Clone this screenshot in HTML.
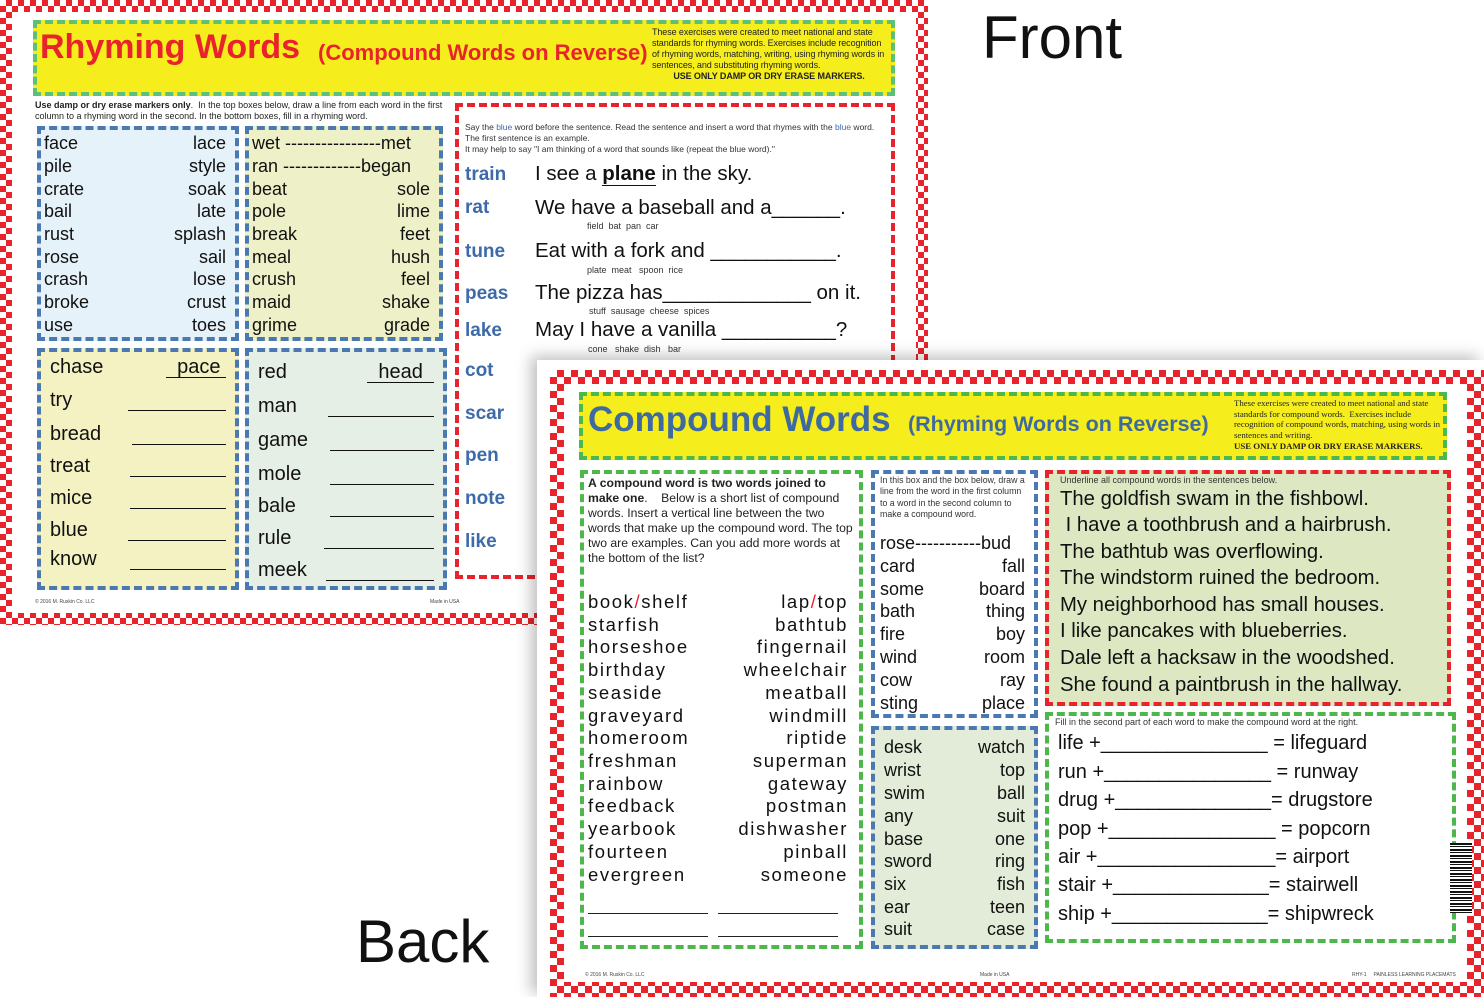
<!DOCTYPE html>
<html><head><meta charset="utf-8">
<style>
*{margin:0;padding:0;box-sizing:border-box}
html,body{width:1484px;height:997px;overflow:hidden}
body{position:relative;background:#fff;font-family:"Liberation Sans",sans-serif;color:#111}
.a{position:absolute}
.chk{position:absolute;background-color:#fff;background-image:repeating-conic-gradient(#e8232b 0 25%,#fff 0 50%);background-size:12px 12px}
.w{position:absolute;background:#fff}
.box{position:absolute}
.t{position:absolute;white-space:nowrap;line-height:1}
.r{position:absolute;display:flex;justify-content:space-between;white-space:nowrap;line-height:1}
.bl{color:#3d6aa8;font-weight:bold}
.sm{font-size:9px;color:#333}
.u{display:inline-block;border-bottom:1px solid #111}
</style></head><body>

<!-- FRONT SHEET -->
<div class="chk" style="left:0;top:0;width:928px;height:625px"></div>
<div class="w" style="left:12px;top:12px;width:904px;height:601px"></div>

<div class="box" style="left:33px;top:20px;width:862px;height:76px;background:#f5ee1c;border:4px dashed #5cbf7a"></div>
<div class="t" style="left:40px;top:30px;font-size:34px;font-weight:bold;color:#e8232b">Rhyming Words</div>
<div class="t" style="left:318px;top:42px;font-size:22px;font-weight:bold;color:#e8232b">(Compound Words on Reverse)</div>
<div class="a" style="left:652px;top:27px;width:234px;font-size:9px;line-height:11px;color:#222;letter-spacing:-0.1px">These exercises were created to meet national and state standards for rhyming words. Exercises include recognition of rhyming words, matching, writing, using rhyming words in sentences, and substituting rhyming words.<div style="text-align:center;font-weight:bold">USE ONLY DAMP OR DRY ERASE MARKERS.</div></div>

<div class="a" style="left:35px;top:100px;width:420px;font-size:9px;line-height:11px;color:#222"><b>Use damp or dry erase markers only</b>.&nbsp; In the top boxes below, draw a line from each word in the first column to a rhyming word in the second. In the bottom boxes, fill in a rhyming word.</div>

<div class="box" style="left:37px;top:126px;width:202px;height:215px;background:#e6f2fa;border:4px dashed #4a78b0"></div>
<div class="box" style="left:245px;top:126px;width:198px;height:215px;background:#eef0c8;border:4px dashed #4a78b0"></div>
<div class="box" style="left:37px;top:348px;width:202px;height:242px;background:#f4f1c2;border:4px dashed #4a78b0"></div>
<div class="box" style="left:245px;top:348px;width:202px;height:242px;background:#e6efe6;border:4px dashed #4a78b0"></div>

<div style="font-size:18px">
<div class="r" style="left:44px;width:182px;top:134px"><span>face</span><span>lace</span></div>
<div class="r" style="left:44px;width:182px;top:157px"><span>pile</span><span>style</span></div>
<div class="r" style="left:44px;width:182px;top:180px"><span>crate</span><span>soak</span></div>
<div class="r" style="left:44px;width:182px;top:202px"><span>bail</span><span>late</span></div>
<div class="r" style="left:44px;width:182px;top:225px"><span>rust</span><span>splash</span></div>
<div class="r" style="left:44px;width:182px;top:248px"><span>rose</span><span>sail</span></div>
<div class="r" style="left:44px;width:182px;top:270px"><span>crash</span><span>lose</span></div>
<div class="r" style="left:44px;width:182px;top:293px"><span>broke</span><span>crust</span></div>
<div class="r" style="left:44px;width:182px;top:316px"><span>use</span><span>toes</span></div>

<div class="r" style="left:252px;width:178px;top:134px"><span>wet ----------------met</span></div>
<div class="r" style="left:252px;width:178px;top:157px"><span>ran -------------began</span></div>
<div class="r" style="left:252px;width:178px;top:180px"><span>beat</span><span>sole</span></div>
<div class="r" style="left:252px;width:178px;top:202px"><span>pole</span><span>lime</span></div>
<div class="r" style="left:252px;width:178px;top:225px"><span>break</span><span>feet</span></div>
<div class="r" style="left:252px;width:178px;top:248px"><span>meal</span><span>hush</span></div>
<div class="r" style="left:252px;width:178px;top:270px"><span>crush</span><span>feel</span></div>
<div class="r" style="left:252px;width:178px;top:293px"><span>maid</span><span>shake</span></div>
<div class="r" style="left:252px;width:178px;top:316px"><span>grime</span><span>grade</span></div>
</div>

<div style="font-size:20px">
<div class="r" style="left:50px;width:176px;top:357px"><span>chase</span><span class="u">&nbsp;&nbsp;pace&nbsp;</span></div>
<div class="r" style="left:50px;width:176px;top:390px"><span>try</span><span class="u" style="width:98px">&nbsp;</span></div>
<div class="r" style="left:50px;width:176px;top:424px"><span>bread</span><span class="u" style="width:94px">&nbsp;</span></div>
<div class="r" style="left:50px;width:176px;top:456px"><span>treat</span><span class="u" style="width:96px">&nbsp;</span></div>
<div class="r" style="left:50px;width:176px;top:488px"><span>mice</span><span class="u" style="width:96px">&nbsp;</span></div>
<div class="r" style="left:50px;width:176px;top:520px"><span>blue</span><span class="u" style="width:98px">&nbsp;</span></div>
<div class="r" style="left:50px;width:176px;top:549px"><span>know</span><span class="u" style="width:96px">&nbsp;</span></div>

<div class="r" style="left:258px;width:176px;top:362px"><span>red</span><span class="u">&nbsp;&nbsp;head&nbsp;&nbsp;</span></div>
<div class="r" style="left:258px;width:176px;top:396px"><span>man</span><span class="u" style="width:106px">&nbsp;</span></div>
<div class="r" style="left:258px;width:176px;top:430px"><span>game</span><span class="u" style="width:104px">&nbsp;</span></div>
<div class="r" style="left:258px;width:176px;top:464px"><span>mole</span><span class="u" style="width:104px">&nbsp;</span></div>
<div class="r" style="left:258px;width:176px;top:496px"><span>bale</span><span class="u" style="width:104px">&nbsp;</span></div>
<div class="r" style="left:258px;width:176px;top:528px"><span>rule</span><span class="u" style="width:110px">&nbsp;</span></div>
<div class="r" style="left:258px;width:176px;top:560px"><span>meek</span><span class="u" style="width:108px">&nbsp;</span></div>
</div>

<div class="box" style="left:455px;top:103px;width:440px;height:476px;border:4px dashed #e8232b"></div>
<div class="a" style="left:465px;top:122px;width:410px;font-size:8.5px;line-height:11px;color:#333">Say the <span style="color:#3d6aa8">blue</span> word before the sentence. Read the sentence and insert a word that rhymes with the <span style="color:#3d6aa8">blue</span> word. The first sentence is an example.<br>It may help to say "I am thinking of a word that sounds like (repeat the blue word)."</div>
<div style="font-size:19px">
<div class="t bl" style="left:465px;top:165px">train</div>
<div class="t bl" style="left:465px;top:198px">rat</div>
<div class="t bl" style="left:465px;top:242px">tune</div>
<div class="t bl" style="left:465px;top:284px">peas</div>
<div class="t bl" style="left:465px;top:321px">lake</div>
<div class="t bl" style="left:465px;top:361px">cot</div>
<div class="t bl" style="left:465px;top:404px">scar</div>
<div class="t bl" style="left:465px;top:446px">pen</div>
<div class="t bl" style="left:465px;top:489px">note</div>
<div class="t bl" style="left:465px;top:532px">like</div>
</div>
<div style="font-size:20.5px">
<div class="t" style="left:535px;top:164px">I see a <b class="u">plane </b> in the sky.</div>
<div class="t" style="left:535px;top:198px">We have a baseball and a______.</div>
<div class="t" style="left:535px;top:241px">Eat with a fork and ___________.</div>
<div class="t" style="left:535px;top:283px">The pizza has_____________ on it.</div>
<div class="t" style="left:535px;top:320px">May I have a vanilla __________?</div>
</div>
<div class="t sm" style="left:587px;top:222px">field&nbsp; bat&nbsp; pan&nbsp; car</div>
<div class="t sm" style="left:587px;top:266px">plate&nbsp; meat&nbsp;&nbsp; spoon&nbsp; rice</div>
<div class="t sm" style="left:589px;top:307px">stuff&nbsp; sausage&nbsp; cheese&nbsp; spices</div>
<div class="t sm" style="left:588px;top:345px">cone&nbsp;&nbsp; shake&nbsp; dish&nbsp;&nbsp; bar</div>
<div class="t" style="left:35px;top:600px;font-size:5px;color:#444">© 2016 M. Ruskin Co. LLC</div>
<div class="t" style="left:430px;top:600px;font-size:5px;color:#444">Made in USA</div>

<div class="t" style="left:982px;top:8px;font-size:60px;color:#111">Front</div>
<div class="t" style="left:356px;top:912px;font-size:60px;color:#111">Back</div>

<!-- BACK SHEET -->
<div class="w" style="left:537px;top:360px;width:947px;height:637px;box-shadow:-6px -4px 14px rgba(0,0,0,0.25)"></div>
<div class="chk" style="left:550px;top:370px;width:934px;height:627px;background-size:14px 14px"></div>
<div class="w" style="left:564px;top:384px;width:903px;height:598px"></div>

<div class="box" style="left:579px;top:392px;width:868px;height:68px;background:#f5ee1c;border:4px dashed #4cb74a"></div>
<div class="t" style="left:588px;top:402px;font-size:35px;font-weight:bold;color:#3f6aa0">Compound Words</div>
<div class="t" style="left:908px;top:414px;font-size:21.5px;font-weight:bold;color:#3f6aa0">(Rhyming Words on Reverse)</div>
<div class="a" style="left:1234px;top:398px;width:210px;font-family:'Liberation Serif',serif;font-size:8.8px;line-height:10.6px;color:#222">These exercises were created to meet national and state standards for compound words.&nbsp; Exercises include recognition of compound words, matching, using words in sentences and writing.<div style="font-weight:bold;margin-top:1px">USE ONLY DAMP OR DRY ERASE MARKERS.</div></div>

<div class="box" style="left:580px;top:470px;width:283px;height:479px;border:4px dashed #4cb74a"></div>
<div class="a" style="left:588px;top:476px;width:266px;font-size:12.2px;line-height:15.1px;color:#222"><b>A compound word is two words joined to make one</b>.&nbsp;&nbsp;&nbsp; Below is a short list of compound words. Insert a vertical line between the two words that make up the compound word. The top two are examples. Can you add more words at the bottom of the list?</div>
<div style="font-size:18.5px;letter-spacing:1.6px">
<div class="r" style="left:588px;width:260px;top:593px"><span>book<span style="color:#e8232b">/</span>shelf</span><span>lap<span style="color:#e8232b">/</span>top</span></div>
<div class="r" style="left:588px;width:260px;top:616px"><span>starfish</span><span>bathtub</span></div>
<div class="r" style="left:588px;width:260px;top:638px"><span>horseshoe</span><span>fingernail</span></div>
<div class="r" style="left:588px;width:260px;top:661px"><span>birthday</span><span>wheelchair</span></div>
<div class="r" style="left:588px;width:260px;top:684px"><span>seaside</span><span>meatball</span></div>
<div class="r" style="left:588px;width:260px;top:707px"><span>graveyard</span><span>windmill</span></div>
<div class="r" style="left:588px;width:260px;top:729px"><span>homeroom</span><span>riptide</span></div>
<div class="r" style="left:588px;width:260px;top:752px"><span>freshman</span><span>superman</span></div>
<div class="r" style="left:588px;width:260px;top:775px"><span>rainbow</span><span>gateway</span></div>
<div class="r" style="left:588px;width:260px;top:797px"><span>feedback</span><span>postman</span></div>
<div class="r" style="left:588px;width:260px;top:820px"><span>yearbook</span><span>dishwasher</span></div>
<div class="r" style="left:588px;width:260px;top:843px"><span>fourteen</span><span>pinball</span></div>
<div class="r" style="left:588px;width:260px;top:866px"><span>evergreen</span><span>someone</span></div>
</div>
<div class="a" style="left:588px;top:913px;width:120px;border-top:1px solid #222"></div>
<div class="a" style="left:718px;top:913px;width:120px;border-top:1px solid #222"></div>
<div class="a" style="left:588px;top:936px;width:120px;border-top:1px solid #222"></div>
<div class="a" style="left:718px;top:936px;width:120px;border-top:1px solid #222"></div>

<div class="box" style="left:871px;top:470px;width:167px;height:248px;border:4px dashed #4a78b0"></div>
<div class="a" style="left:880px;top:475px;width:150px;font-size:8.8px;line-height:11.4px;color:#333">In this box and the box below, draw a line from the word in the first column to a word in the second column to make a compound word.</div>
<div style="font-size:18px">
<div class="r" style="left:880px;width:145px;top:534px"><span>rose-----------bud</span></div>
<div class="r" style="left:880px;width:145px;top:557px"><span>card</span><span>fall</span></div>
<div class="r" style="left:880px;width:145px;top:580px"><span>some</span><span>board</span></div>
<div class="r" style="left:880px;width:145px;top:602px"><span>bath</span><span>thing</span></div>
<div class="r" style="left:880px;width:145px;top:625px"><span>fire</span><span>boy</span></div>
<div class="r" style="left:880px;width:145px;top:648px"><span>wind</span><span>room</span></div>
<div class="r" style="left:880px;width:145px;top:671px"><span>cow</span><span>ray</span></div>
<div class="r" style="left:880px;width:145px;top:694px"><span>sting</span><span>place</span></div>
</div>

<div class="box" style="left:871px;top:726px;width:167px;height:223px;background:#e3ecd8;border:4px dashed #4a78b0"></div>
<div style="font-size:18px">
<div class="r" style="left:884px;width:141px;top:738px"><span>desk</span><span>watch</span></div>
<div class="r" style="left:884px;width:141px;top:761px"><span>wrist</span><span>top</span></div>
<div class="r" style="left:884px;width:141px;top:784px"><span>swim</span><span>ball</span></div>
<div class="r" style="left:884px;width:141px;top:807px"><span>any</span><span>suit</span></div>
<div class="r" style="left:884px;width:141px;top:830px"><span>base</span><span>one</span></div>
<div class="r" style="left:884px;width:141px;top:852px"><span>sword</span><span>ring</span></div>
<div class="r" style="left:884px;width:141px;top:875px"><span>six</span><span>fish</span></div>
<div class="r" style="left:884px;width:141px;top:898px"><span>ear</span><span>teen</span></div>
<div class="r" style="left:884px;width:141px;top:920px"><span>suit</span><span>case</span></div>
</div>

<div class="box" style="left:1045px;top:470px;width:406px;height:236px;background:#dde8c3;border:4px dashed #e8232b"></div>
<div class="t" style="left:1060px;top:476px;font-size:9px;color:#333">Underline all compound words in the sentences below.</div>
<div style="font-size:20.3px">
<div class="t" style="left:1060px;top:489px">The goldfish swam in the fishbowl.</div>
<div class="t" style="left:1060px;top:515px">&nbsp;I have a toothbrush and a hairbrush.</div>
<div class="t" style="left:1060px;top:542px">The bathtub was overflowing.</div>
<div class="t" style="left:1060px;top:568px">The windstorm ruined the bedroom.</div>
<div class="t" style="left:1060px;top:595px">My neighborhood has small houses.</div>
<div class="t" style="left:1060px;top:621px">I like pancakes with blueberries.</div>
<div class="t" style="left:1060px;top:648px">Dale left a hacksaw in the woodshed.</div>
<div class="t" style="left:1060px;top:675px">She found a paintbrush in the hallway.</div>
</div>

<div class="box" style="left:1045px;top:712px;width:411px;height:231px;border:4px dashed #4cb74a"></div>
<div class="t" style="left:1055px;top:718px;font-size:9px;color:#333">Fill in the second part of each word to make the compound word at the right.</div>
<div style="font-size:20px">
<div class="t" style="left:1058px;top:733px">life +_______________ = lifeguard</div>
<div class="t" style="left:1058px;top:762px">run +_______________ = runway</div>
<div class="t" style="left:1058px;top:790px">drug +______________= drugstore</div>
<div class="t" style="left:1058px;top:819px">pop +_______________ = popcorn</div>
<div class="t" style="left:1058px;top:847px">air +________________= airport</div>
<div class="t" style="left:1058px;top:875px">stair +______________= stairwell</div>
<div class="t" style="left:1058px;top:904px">ship +______________= shipwreck</div>
</div>
<div class="a" style="left:1450px;top:843px;width:22px;height:70px;background:repeating-linear-gradient(180deg,#111 0 2px,#fff 2px 3px,#111 3px 4px,#fff 4px 6px)"></div>
<div class="t" style="left:585px;top:973px;font-size:5px;color:#444">© 2016 M. Ruskin Co. LLC</div>
<div class="t" style="left:980px;top:973px;font-size:5px;color:#444">Made in USA</div>
<div class="t" style="left:1352px;top:973px;font-size:5px;color:#444">RHY-1 &nbsp;&nbsp;&nbsp; PAINLESS LEARNING PLACEMATS</div>
</body></html>
